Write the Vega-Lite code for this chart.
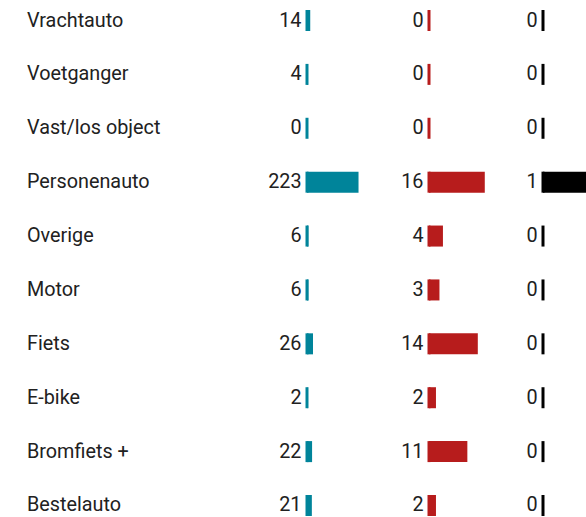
{
  "$schema": "https://vega.github.io/schema/vega-lite/v6.json",
  "padding": {"left": 27, "top": 0, "right": 0, "bottom": 0},
  "bounds": "flush",
  "spacing": 0,
  "config": {
    "view": {"stroke": null},
    "text": {"font": "Roboto", "fontSize": 19.8, "color": "#212121"}
  },
  "data": {
    "values": [
      {"cat": "Vrachtauto", "a": 14, "b": 0, "c": 0},
      {"cat": "Voetganger", "a": 4, "b": 0, "c": 0},
      {"cat": "Vast/los object", "a": 0, "b": 0, "c": 0},
      {"cat": "Personenauto", "a": 223, "b": 16, "c": 1},
      {"cat": "Overige", "a": 6, "b": 4, "c": 0},
      {"cat": "Motor", "a": 6, "b": 3, "c": 0},
      {"cat": "Fiets", "a": 26, "b": 14, "c": 0},
      {"cat": "E-bike", "a": 2, "b": 2, "c": 0},
      {"cat": "Bromfiets +", "a": 22, "b": 11, "c": 0},
      {"cat": "Bestelauto", "a": 21, "b": 2, "c": 0}
    ]
  },
  "hconcat": [
    {
      "width": 280,
      "height": 526,
      "mark": {"type": "text", "align": "left", "baseline": "middle"},
      "encoding": {
        "x": {"value": 0},
        "y": {"field": "cat", "type": "nominal", "sort": null, "axis": null, "scale": {"type": "band", "paddingInner": 0.61, "paddingOuter": 0.1855}},
        "text": {"field": "cat"}
      }
    },
    {
      "width": 122,
      "height": 526,
      "encoding": {
        "y": {"field": "cat", "type": "nominal", "sort": null, "axis": null, "scale": {"type": "band", "paddingInner": 0.61, "paddingOuter": 0.1855}}
      },
      "layer": [
        {
          "mark": {"type": "bar", "color": "#00849a"},
          "encoding": {"x": {"field": "a", "type": "quantitative", "scale": {"domain": [0, 528], "nice": false}, "axis": null}}
        },
        {
          "mark": {"type": "tick", "color": "#00849a", "thickness": 3, "size": 21, "opacity": 1},
          "encoding": {"x": {"datum": 0, "type": "quantitative"}}
        },
        {
          "mark": {"type": "text", "align": "right", "baseline": "middle", "dx": -5.5},
          "encoding": {"x": {"datum": 0, "type": "quantitative"}, "text": {"field": "a"}}
        }
      ]
    },
    {
      "width": 114,
      "height": 526,
      "encoding": {
        "y": {"field": "cat", "type": "nominal", "sort": null, "axis": null, "scale": {"type": "band", "paddingInner": 0.61, "paddingOuter": 0.1855}}
      },
      "layer": [
        {
          "mark": {"type": "bar", "color": "#b71c1c"},
          "encoding": {"x": {"field": "b", "type": "quantitative", "scale": {"domain": [0, 32.7], "nice": false}, "axis": null}}
        },
        {
          "mark": {"type": "tick", "color": "#b71c1c", "thickness": 3, "size": 21, "opacity": 1},
          "encoding": {"x": {"datum": 0, "type": "quantitative"}}
        },
        {
          "mark": {"type": "text", "align": "right", "baseline": "middle", "dx": -5.5},
          "encoding": {"x": {"datum": 0, "type": "quantitative"}, "text": {"field": "b"}}
        }
      ]
    },
    {
      "width": 43,
      "height": 526,
      "encoding": {
        "y": {"field": "cat", "type": "nominal", "sort": null, "axis": null, "scale": {"type": "band", "paddingInner": 0.61, "paddingOuter": 0.1855}}
      },
      "layer": [
        {
          "mark": {"type": "bar", "color": "#000000"},
          "encoding": {"x": {"field": "c", "type": "quantitative", "scale": {"domain": [0, 1], "nice": false}, "axis": null}}
        },
        {
          "mark": {"type": "tick", "color": "#000000", "thickness": 3, "size": 21, "opacity": 1},
          "encoding": {"x": {"datum": 0, "type": "quantitative"}}
        },
        {
          "mark": {"type": "text", "align": "right", "baseline": "middle", "dx": -5.5},
          "encoding": {"x": {"datum": 0, "type": "quantitative"}, "text": {"field": "c"}}
        }
      ]
    }
  ]
}
